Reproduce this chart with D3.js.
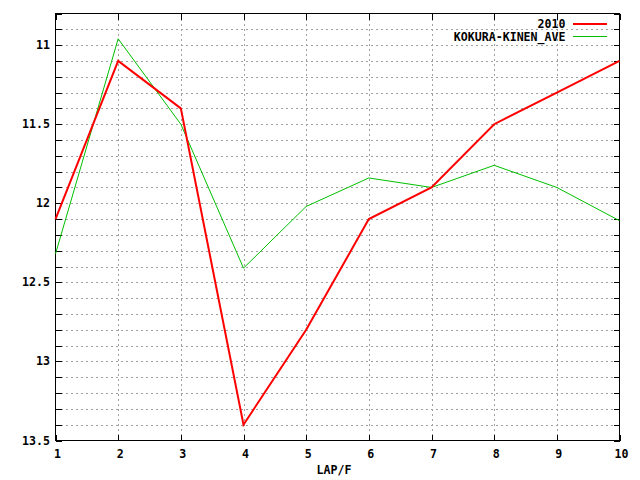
<!DOCTYPE html>
<html><head><meta charset="utf-8">
<script src="https://cdn.jsdelivr.net/npm/d3@7"></script>
<style>
html,body{margin:0;padding:0;background:#fff;}
text{font-family:"DejaVu Sans Mono",monospace;font-weight:bold;font-size:11.6px;fill:#000;}
</style></head><body>
<svg id="c" width="640" height="480"></svg>
<script>
const laps = [1,2,3,4,5,6,7,8,9,10];
const series2010 = [12.1,11.1,11.4,13.4,12.8,12.1,11.9,11.5,11.3,11.1];
const seriesAve = [12.32,10.96,11.5,12.41,12.02,11.84,11.9,11.76,11.9,12.11];
const yTicks = [11,11.5,12,12.5,13,13.5];
const yMinor = d3.range(0,28).map(i=>+(10.8+i*0.1).toFixed(1));
const seriesNames = ["2010","KOKURA-KINEN_AVE"];
const colors = ["#ff0000","#00c000"];

const L=55.5,R=619.5,T=13.5,B=440.5;
const svg=d3.select("#c");
const x=d3.scaleLinear().domain([1,10]).range([L,R]);
const y=d3.scaleLinear().domain([10.8,13.5]).range([T,B]);

// grid
svg.append("g").attr("shape-rendering","crispEdges").selectAll("line").data(yMinor.filter(v=>v>10.85&&v<13.45)).join("line")
  .attr("x1",L).attr("x2",R).attr("y1",d=>Math.round(y(d))+0.5).attr("y2",d=>Math.round(y(d))+0.5)
  .attr("stroke","#a0a0a0").attr("stroke-width",1).attr("stroke-dasharray","2,3");
svg.append("g").attr("shape-rendering","crispEdges").selectAll("line").data(laps.slice(1,-1)).join("line")
  .attr("x1",d=>Math.round(x(d))+0.5).attr("x2",d=>Math.round(x(d))+0.5).attr("y1",T).attr("y2",B)
  .attr("stroke","#a0a0a0").attr("stroke-width",1).attr("stroke-dasharray","2,3");

// axes ticks
const gL=svg.append("g").attr("transform",`translate(${L},0)`)
  .call(d3.axisLeft(y).tickValues(yMinor).tickSize(-6).tickFormat(""));
const gR=svg.append("g").attr("transform",`translate(${R},0)`)
  .call(d3.axisRight(y).tickValues(yMinor).tickSize(-6).tickFormat(""));
const gB=svg.append("g").attr("transform",`translate(0,${B})`)
  .call(d3.axisBottom(x).tickValues(laps).tickSize(-6).tickFormat(""));
const gT=svg.append("g").attr("transform",`translate(0,${T})`)
  .call(d3.axisTop(x).tickValues(laps).tickSize(-6).tickFormat(""));
[gL,gR,gB,gT].forEach(g=>{g.attr("shape-rendering","crispEdges");g.select(".domain").remove();g.selectAll("line").attr("stroke","#000");});

// tick labels
svg.append("g").selectAll("text").data(yTicks).join("text")
  .attr("x",50).attr("y",d=>y(d)).attr("dy","0.35em").attr("text-anchor","end")
  .text(d=>d3.format("")(d));
svg.append("g").selectAll("text").data(laps).join("text")
  .attr("x",d=>x(d)+2).attr("y",454).attr("dy","0.35em").attr("text-anchor","middle").text(d=>d);
svg.append("text").attr("x",334).attr("y",470).attr("dy","0.35em").attr("text-anchor","middle").text("LAP/F");

// border
svg.append("rect").attr("x",L).attr("y",T).attr("width",R-L).attr("height",B-T)
  .attr("fill","none").attr("stroke","#000").attr("stroke-width",1).attr("shape-rendering","crispEdges");

// lines
const line=d3.line().x((d,i)=>x(laps[i])).y(d=>y(d));
svg.append("path").datum(seriesAve).attr("d",line).attr("fill","none").attr("stroke",colors[1]).attr("stroke-width",1);
svg.append("path").datum(series2010).attr("d",line).attr("fill","none").attr("stroke",colors[0]).attr("stroke-width",2);

// legend
const leg=svg.append("g");
seriesNames.forEach((n,i)=>{
  const yy=24+i*12.5;
  leg.append("text").attr("x",565.5).attr("y",yy).attr("dy","0.35em").attr("text-anchor","end").text(n);
  leg.append("line").attr("x1",573).attr("x2",607).attr("y1",yy).attr("y2",yy)
    .attr("stroke",colors[i]).attr("stroke-width",i===0?2:1);
});
</script></body></html>
